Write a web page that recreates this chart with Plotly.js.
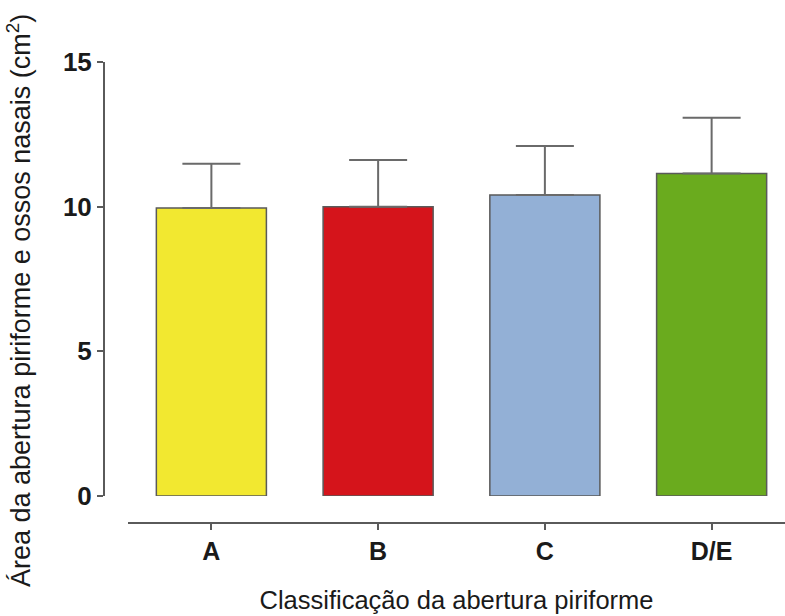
<!DOCTYPE html>
<html>
<head>
<meta charset="utf-8">
<script src="https://cdn.plot.ly/plotly-3.0.1.min.js"></script>
<style>html,body{margin:0;padding:0;background:#fff;}#chart{width:785px;height:616px;}</style>
</head>
<body>
<div id="chart"></div>
<script>
const categories = ["A", "B", "C", "D/E"];
const means = [9.95, 10.0, 10.4, 11.15];
const sdUpper = [1.53, 1.61, 1.70, 1.92];
const barColors = ["#f2e830", "#d5141b", "#93b0d6", "#6aab1e"];
const yTicks = [0, 5, 10, 15];
const xTitle = "Classificação da abertura piriforme";
const yTitle = "Área da abertura piriforme e ossos nasais (cm<sup>2</sup>)";

const FONT = "Liberation Sans, Arial, sans-serif";

const trace = {
  type: "bar",
  x: categories,
  y: means,
  width: 0.66,
  marker: {color: barColors, line: {color: "#5a5a5a", width: 1.5}},
  error_y: {type: "data", symmetric: false, array: sdUpper, arrayminus: [0,0,0,0], color: "#6a6a6a", thickness: 2, width: 29},
  hoverinfo: "x+y"
};

const layout = {
  width: 785, height: 616,
  margin: {l: 104, r: 0, t: 62, b: 93},
  paper_bgcolor: "#ffffff", plot_bgcolor: "#ffffff",
  showlegend: false,
  font: {family: FONT, color: "#1a1a1a"},
  xaxis: {
    domain: [24/681, 1],
    range: [-0.5, 3.44],
    anchor: "free", position: 0,
    showline: true, linecolor: "#5a5a5a", linewidth: 2,
    ticks: "outside", ticklen: 6, tickwidth: 2, tickcolor: "#5a5a5a",
    tickfont: {size: 25, family: FONT, weight: "bold", color: "#1a1a1a"},
    showgrid: false, zeroline: false,
    title: {text: xTitle, font: {size: 25.5, family: FONT, color: "#1a1a1a"}, standoff: 26},
    automargin: false
  },
  yaxis: {
    domain: [27/461, 1],
    range: [0, 15],
    anchor: "free", position: 0,
    tickvals: yTicks, ticktext: yTicks.map(String),
    showline: true, linecolor: "#5a5a5a", linewidth: 2,
    ticks: "outside", ticklen: 6, tickwidth: 2, tickcolor: "#5a5a5a",
    tickfont: {size: 26, family: FONT, weight: "bold", color: "#1a1a1a"},
    showgrid: false, zeroline: false,
    automargin: false
  },
  annotations: [{
    text: yTitle, textangle: -90,
    xref: "paper", yref: "paper",
    x: -85/681, y: (523 - 301) / 461,
    xanchor: "center", yanchor: "middle",
    showarrow: false,
    font: {size: 27, family: FONT, color: "#1a1a1a"}
  }]
};

Plotly.newPlot("chart", [trace], layout, {displayModeBar: false, staticPlot: true});
</script>
</body>
</html>
